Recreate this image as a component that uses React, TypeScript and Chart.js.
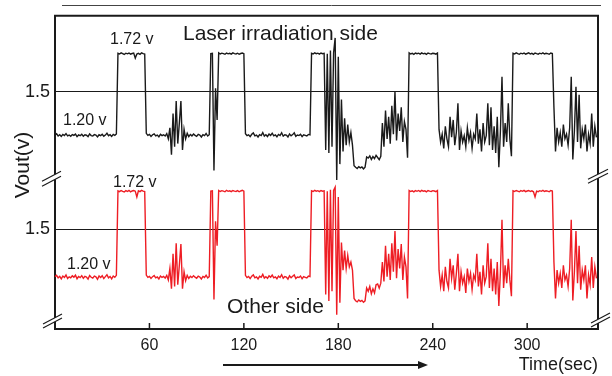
import { useEffect, useRef } from "react";
import { Chart, registerables } from "chart.js";

Chart.register(...registerables);

const FONT = "'Liberation Sans', Arial, Helvetica, sans-serif";

// x: time in seconds (one sample per second), y: Vout in volts
const timeStepSec = 1;
const xTickValues = [60, 120, 180, 240, 300];
const yTickValues = [1.5];

const laserSide = [
  1.225, 1.232, 1.218, 1.226, 1.215, 1.228, 1.221, 1.233, 1.219, 1.224,
  1.216, 1.227, 1.222, 1.230, 1.214, 1.225, 1.220, 1.229, 1.217, 1.226,
  1.223, 1.214, 1.231, 1.221, 1.218, 1.227, 1.224, 1.212, 1.226, 1.221,
  1.229, 1.217, 1.224, 1.236, 1.220, 1.226, 1.215, 1.228, 1.222, 1.231,
  1.742, 1.738, 1.745, 1.740, 1.735, 1.743, 1.739, 1.744, 1.737, 1.741,
  1.744, 1.712, 1.738, 1.742, 1.736, 1.745, 1.740, 1.738, 1.235, 1.222,
  1.228, 1.215, 1.226, 1.232, 1.219, 1.224, 1.213, 1.229, 1.221, 1.226,
  1.218, 1.233, 1.200, 1.270, 1.100, 1.360, 1.150, 1.440, 1.170, 1.300,
  1.440, 1.130, 1.260, 1.200, 1.235, 1.214, 1.228, 1.219, 1.231, 1.222,
  1.216, 1.229, 1.224, 1.212, 1.227, 1.221, 1.234, 1.218, 1.226, 1.740,
  1.742, 1.000, 1.520, 1.320, 1.745, 1.738, 1.743, 1.740, 1.736, 1.744,
  1.739, 1.742, 1.737, 1.745, 1.740, 1.738, 1.743, 1.736, 1.741, 1.744,
  1.740, 1.232, 1.221, 1.226, 1.214, 1.229, 1.238, 1.219, 1.224, 1.212,
  1.227, 1.221, 1.240, 1.218, 1.226, 1.215, 1.230, 1.222, 1.236, 1.219,
  1.225, 1.213, 1.228, 1.221, 1.239, 1.217, 1.226, 1.224, 1.212, 1.231,
  1.219, 1.227, 1.238, 1.216, 1.224, 1.221, 1.229, 1.214, 1.226, 1.222,
  1.218, 1.228, 1.225, 1.742, 1.738, 1.745, 1.740, 1.743, 1.737, 1.744,
  1.740, 1.742, 1.130, 1.740, 1.110, 1.760, 1.150, 1.745, 1.840, 0.940,
  1.720, 1.040, 1.450, 1.120, 1.330, 1.160, 1.290, 1.180, 1.240, 1.160,
  1.030, 1.020, 1.012, 1.024, 1.016, 1.022, 1.010, 1.021, 1.085, 1.078,
  1.092, 1.070, 1.088, 1.075, 1.096, 1.082, 1.068, 1.090, 1.300, 1.150,
  1.380, 1.200, 1.340, 1.170, 1.410, 1.230, 1.500, 1.190, 1.360, 1.250,
  1.400, 1.180, 1.310, 1.260, 1.080, 1.745, 1.738, 1.742, 1.736, 1.744,
  1.740, 1.743, 1.737, 1.745, 1.739, 1.742, 1.736, 1.744, 1.740, 1.738,
  1.743, 1.741, 1.737, 1.744, 1.260, 1.180, 1.230, 1.140, 1.280, 1.200,
  1.150, 1.340, 1.210, 1.320, 1.160, 1.240, 1.425, 1.130, 1.250, 1.180,
  1.220, 1.150, 1.270, 1.190, 1.240, 1.140, 1.230, 1.200, 1.360, 1.170,
  1.260, 1.120, 1.300, 1.180, 1.220, 1.425, 1.160, 1.400, 1.130, 1.280,
  1.110, 1.340, 1.020, 1.250, 1.594, 1.150, 1.300, 1.180, 1.425, 1.200,
  1.090, 1.742, 1.738, 1.745, 1.740, 1.736, 1.743, 1.739, 1.744, 1.737,
  1.741, 1.745, 1.738, 1.742, 1.736, 1.744, 1.740, 1.737, 1.743, 1.739,
  1.745, 1.738, 1.742, 1.740, 1.736, 1.744, 1.741, 1.400, 1.120, 1.270,
  1.180, 1.240, 1.150, 1.290, 1.200, 1.230, 1.160, 1.270, 1.594, 1.070,
  1.250, 1.530, 1.180, 1.480, 1.140, 1.260, 1.200, 1.290, 1.120, 1.230,
  1.170, 1.360, 1.150, 1.280, 1.210,
];

const otherSide = [
  1.210, 1.218, 1.202, 1.212, 1.196, 1.214, 1.205, 1.220, 1.199, 1.209,
  1.203, 1.215, 1.207, 1.219, 1.197, 1.211, 1.204, 1.216, 1.200, 1.212,
  1.208, 1.195, 1.217, 1.206, 1.201, 1.213, 1.209, 1.194, 1.214, 1.205,
  1.216, 1.198, 1.210, 1.222, 1.203, 1.211, 1.196, 1.214, 1.206, 1.218,
  1.738, 1.733, 1.740, 1.735, 1.731, 1.739, 1.734, 1.741, 1.732, 1.737,
  1.740, 1.736, 1.700, 1.738, 1.733, 1.741, 1.736, 1.734, 1.220, 1.206,
  1.212, 1.199, 1.210, 1.217, 1.203, 1.208, 1.196, 1.214, 1.205, 1.211,
  1.201, 1.218, 1.190, 1.260, 1.136, 1.350, 1.150, 1.415, 1.160, 1.280,
  1.410, 1.136, 1.240, 1.185, 1.218, 1.199, 1.212, 1.204, 1.216, 1.207,
  1.200, 1.213, 1.208, 1.196, 1.211, 1.205, 1.219, 1.202, 1.210, 1.736,
  1.738, 1.070, 1.550, 1.400, 1.740, 1.734, 1.739, 1.736, 1.732, 1.741,
  1.735, 1.738, 1.733, 1.740, 1.736, 1.734, 1.739, 1.732, 1.737, 1.741,
  1.736, 1.218, 1.204, 1.211, 1.198, 1.213, 1.221, 1.203, 1.209, 1.196,
  1.212, 1.206, 1.224, 1.201, 1.210, 1.199, 1.215, 1.207, 1.220, 1.203,
  1.209, 1.197, 1.213, 1.205, 1.222, 1.200, 1.211, 1.208, 1.195, 1.215,
  1.203, 1.212, 1.221, 1.199, 1.208, 1.205, 1.214, 1.197, 1.210, 1.206,
  1.202, 1.213, 1.210, 1.738, 1.734, 1.741, 1.736, 1.739, 1.733, 1.740,
  1.736, 1.738, 1.100, 1.736, 1.060, 1.745, 1.120, 1.740, 1.760, 0.975,
  1.700, 1.050, 1.420, 1.250, 1.370, 1.260, 1.340, 1.270, 1.300, 1.250,
  1.076, 1.062, 1.055, 1.066, 1.058, 1.064, 1.052, 1.061, 1.140, 1.120,
  1.150, 1.105, 1.135, 1.110, 1.160, 1.165, 1.140, 1.170, 1.300, 1.180,
  1.400, 1.210, 1.350, 1.190, 1.415, 1.240, 1.490, 1.200, 1.380, 1.260,
  1.410, 1.190, 1.330, 1.270, 1.076, 1.740, 1.734, 1.738, 1.732, 1.739,
  1.735, 1.740, 1.733, 1.741, 1.736, 1.738, 1.732, 1.740, 1.736, 1.734,
  1.739, 1.737, 1.733, 1.740, 1.250, 1.150, 1.220, 1.120, 1.270, 1.180,
  1.140, 1.320, 1.200, 1.280, 1.130, 1.230, 1.350, 1.120, 1.240, 1.170,
  1.210, 1.110, 1.260, 1.180, 1.230, 1.130, 1.220, 1.190, 1.350, 1.150,
  1.240, 1.100, 1.280, 1.170, 1.210, 1.415, 1.140, 1.320, 1.120, 1.260,
  1.100, 1.300, 1.030, 1.240, 1.560, 1.140, 1.280, 1.170, 1.320, 1.190,
  1.090, 1.738, 1.734, 1.740, 1.736, 1.732, 1.739, 1.735, 1.741, 1.733,
  1.737, 1.740, 1.734, 1.738, 1.732, 1.700, 1.736, 1.733, 1.739, 1.735,
  1.741, 1.734, 1.738, 1.736, 1.732, 1.740, 1.737, 1.300, 1.076, 1.250,
  1.170, 1.230, 1.140, 1.280, 1.190, 1.220, 1.150, 1.260, 1.560, 1.064,
  1.240, 1.490, 1.170, 1.400, 1.130, 1.250, 1.190, 1.280, 1.076, 1.220,
  1.160, 1.330, 1.140, 1.270, 1.200,
];

const INK = "#1a1a1a";
const RED = "#ee1d24";

function line(ctx: CanvasRenderingContext2D, x1: number, y1: number, x2: number, y2: number) {
  ctx.beginPath();
  ctx.moveTo(x1, y1);
  ctx.lineTo(x2, y2);
  ctx.stroke();
}

function breakMark(ctx: CanvasRenderingContext2D, x1: number, y1: number, x2: number, y2: number, gap: number) {
  ctx.save();
  ctx.fillStyle = "#fff";
  ctx.beginPath();
  ctx.moveTo(x1, y1);
  ctx.lineTo(x2, y2);
  ctx.lineTo(x2, y2 + gap);
  ctx.lineTo(x1, y1 + gap);
  ctx.closePath();
  ctx.fill();
  ctx.strokeStyle = INK;
  ctx.lineWidth = 1.2;
  line(ctx, x1, y1, x2, y2);
  line(ctx, x1, y1 + gap, x2, y2 + gap);
  ctx.restore();
}

const decorPlugin = {
  id: "decor",
  afterDraw(chart: any) {
    const ctx: CanvasRenderingContext2D = chart.ctx;
    const { left, right, top, bottom } = chart.chartArea;
    ctx.save();
    ctx.lineCap = "butt";
    // thin line above the frame
    ctx.strokeStyle = "#444";
    ctx.lineWidth = 1;
    line(ctx, 62, 5.5, 601, 5.5);
    // frame top and right
    ctx.strokeStyle = INK;
    ctx.lineWidth = 2;
    line(ctx, left - 1, top, right + 1, top);
    line(ctx, right, top, right, bottom + 1);
    // inward x ticks
    const xs = chart.scales.x;
    ctx.lineWidth = 1.5;
    for (const t of xs.ticks) {
      const px = xs.getPixelForValue(t.value);
      line(ctx, px, bottom - 6, px, bottom);
    }
    // axis breaks
    const mid = chart.scales.yTop.bottom;
    breakMark(ctx, 42, mid + 3, 61, mid - 7, 5);
    breakMark(ctx, 43, bottom - 5, 62, bottom - 15, 4);
    breakMark(ctx, 588, mid + 1, 608, mid - 9, 4);
    breakMark(ctx, 591, bottom - 6, 610, bottom - 16, 4);

    // texts
    ctx.fillStyle = INK;
    ctx.textAlign = "left";
    ctx.textBaseline = "alphabetic";
    ctx.font = `21px ${FONT}`;
    ctx.fillText("Laser irradiation side", 183, 40);
    ctx.fillText("Other side", 227, 313);
    ctx.font = `16px ${FONT}`;
    ctx.fillText("1.72 v", 110, 44);
    ctx.fillText("1.20 v", 63, 125);
    ctx.fillText("1.72 v", 113, 187);
    ctx.fillText("1.20 v", 67, 269);
    // y title
    ctx.save();
    ctx.translate(29, 165);
    ctx.rotate(-Math.PI / 2);
    ctx.textAlign = "center";
    ctx.font = `21px ${FONT}`;
    ctx.fillText("Vout(v)", 0, 0);
    ctx.restore();
    // arrow
    ctx.strokeStyle = INK;
    ctx.lineWidth = 2;
    line(ctx, 223, 365, 420, 365);
    ctx.beginPath();
    ctx.moveTo(428, 365);
    ctx.lineTo(418, 361);
    ctx.lineTo(418, 369);
    ctx.closePath();
    ctx.fill();
    ctx.restore();
  },
};

const yTickLabel = (v: any) => Number(v).toFixed(1);

export default function App() {
  const ref = useRef<HTMLCanvasElement | null>(null);
  useEffect(() => {
    if (!ref.current) return;
    const chart = new Chart(ref.current, {
      type: "line",
      data: {
        datasets: [
          {
            label: "Laser irradiation side",
            data: laserSide.map((v, i) => ({ x: i * timeStepSec, y: v })),
            yAxisID: "yTop",
            borderColor: INK,
            borderWidth: 1.4,
            pointRadius: 0,
            tension: 0,
            clip: false as any,
          },
          {
            label: "Other side",
            data: otherSide.map((v, i) => ({ x: i * timeStepSec, y: v })),
            yAxisID: "yBot",
            borderColor: RED,
            borderWidth: 1.4,
            pointRadius: 0,
            tension: 0,
            clip: false as any,
          },
        ],
      },
      options: {
        responsive: false,
        animation: false,
        layout: { padding: { left: 0, top: 11, right: 14, bottom: 0 } },
        plugins: { legend: { display: false }, tooltip: { enabled: false } },
        scales: {
          x: {
            type: "linear",
            min: 0,
            max: 345,
            afterBuildTicks: (s: any) => {
              s.ticks = xTickValues.map((v) => ({ value: v }));
            },
            afterFit: (s: any) => {
              s.height = 47;
            },
            grid: { display: false, drawTicks: false },
            border: { display: true, color: INK, width: 2 },
            ticks: { color: INK, font: { family: FONT, size: 16 }, padding: 7, maxRotation: 0 },
            title: {
              display: true,
              text: "Time(sec)",
              align: "end",
              color: INK,
              font: { family: FONT, size: 18 },
              padding: { top: 0, bottom: 0 },
            },
          },
          yBot: {
            type: "linear",
            position: "left",
            stack: "v",
            stackWeight: 153,
            min: 0.888,
            max: 1.815,
            afterBuildTicks: (s: any) => {
              s.ticks = yTickValues.map((v) => ({ value: v }));
            },
            afterFit: (s: any) => {
              s.width = 55;
            },
            grid: { color: INK, lineWidth: 1, drawTicks: false },
            border: { display: true, color: INK, width: 2 },
            ticks: { color: INK, font: { family: FONT, size: 18 }, padding: 5, callback: yTickLabel },
          },
          yTop: {
            type: "linear",
            position: "left",
            stack: "v",
            stackWeight: 165,
            min: 0.95,
            max: 1.98,
            afterBuildTicks: (s: any) => {
              s.ticks = yTickValues.map((v) => ({ value: v }));
            },
            afterFit: (s: any) => {
              s.width = 55;
            },
            grid: { color: INK, lineWidth: 1, drawTicks: false },
            border: { display: true, color: INK, width: 2 },
            ticks: { color: INK, font: { family: FONT, size: 18 }, padding: 5, callback: yTickLabel },
          },
        },
      } as any,
      plugins: [decorPlugin],
    });
    return () => chart.destroy();
  }, []);
  return (
    <div style={{ position: "fixed", left: 0, top: 0, width: 612, height: 376, background: "#fff" }}>
      <canvas ref={ref} width={612} height={376} style={{ display: "block" }} />
    </div>
  );
}
